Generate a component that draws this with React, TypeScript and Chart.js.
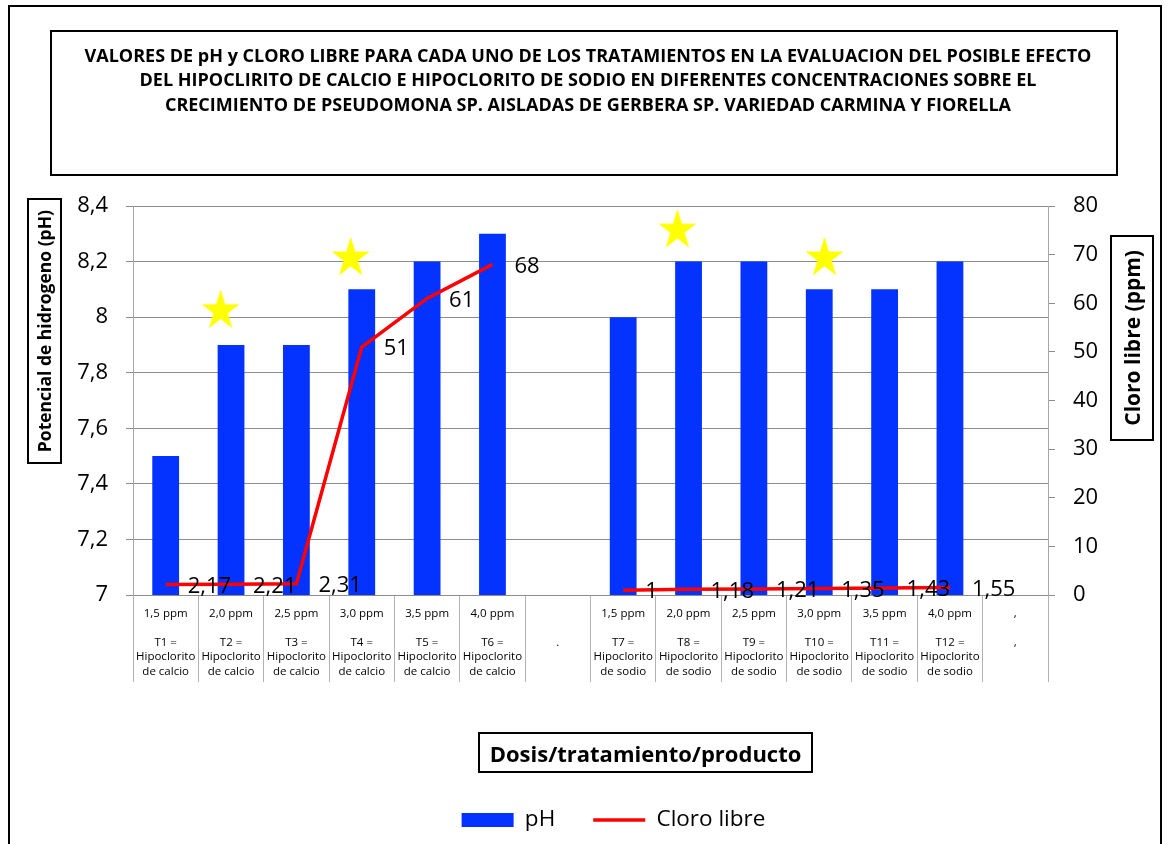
import { useEffect, useRef } from 'react';
import { Chart, registerables } from 'chart.js';

Chart.register(...registerables);

// ---------- data ----------
const categories: string[][] = [
  ['1,5 ppm', '', 'T1 =', 'Hipoclorito', 'de calcio'],
  ['2,0 ppm', '', 'T2 =', 'Hipoclorito', 'de calcio'],
  ['2,5 ppm', '', 'T3 =', 'Hipoclorito', 'de calcio'],
  ['3,0 ppm', '', 'T4 =', 'Hipoclorito', 'de calcio'],
  ['3,5 ppm', '', 'T5 =', 'Hipoclorito', 'de calcio'],
  ['4,0 ppm', '', 'T6 =', 'Hipoclorito', 'de calcio'],
  ['', '', '.', '', ''],
  ['1,5 ppm', '', 'T7 =', 'Hipoclorito', 'de sodio'],
  ['2,0 ppm', '', 'T8 =', 'Hipoclorito', 'de sodio'],
  ['2,5 ppm', '', 'T9 =', 'Hipoclorito', 'de sodio'],
  ['3,0 ppm', '', 'T10 =', 'Hipoclorito', 'de sodio'],
  ['3,5 ppm', '', 'T11 =', 'Hipoclorito', 'de sodio'],
  ['4,0 ppm', '', 'T12 =', 'Hipoclorito', 'de sodio'],
  [',', '', ',', '', ''],
];

const phValues: (number | null)[] = [7.5, 7.9, 7.9, 8.1, 8.2, 8.3, null, 8.0, 8.2, 8.2, 8.1, 8.1, 8.2, null];
const cloroValues: (number | null)[] = [2.17, 2.21, 2.31, 51, 61, 68, null, 1, 1.18, 1.21, 1.35, 1.43, 1.55, null];

// star markers: category index, shift (fraction of a category), pH level
const starCategories: number[] = [1, 3, 8, 10];
const starShifts: number[] = [-0.16, -0.17, -0.17, 0.08];
const starLevels: number[] = [8.03, 8.22, 8.32, 8.22];

const phAxis = { min: 7, max: 8.4, step: 0.2 };
const cloroAxis = { min: 0, max: 80, step: 10 };

const titleLines: string[] = [
  'VALORES DE pH y CLORO LIBRE PARA CADA UNO DE LOS TRATAMIENTOS EN LA EVALUACION DEL POSIBLE EFECTO',
  'DEL HIPOCLIRITO DE CALCIO E HIPOCLORITO DE SODIO EN DIFERENTES CONCENTRACIONES SOBRE EL',
  'CRECIMIENTO DE PSEUDOMONA SP. AISLADAS DE GERBERA SP. VARIEDAD CARMINA Y FIORELLA',
];
const leftTitle = 'Potencial de hidrogeno (pH)';
const rightTitle = 'Cloro libre (ppm)';
const xTitle = 'Dosis/tratamiento/producto';
const seriesNames = ['pH', 'Cloro libre'];

const BLUE = '#0433ff';
const RED = '#ff0000';
const FONT = "'Open Sans', 'Noto Sans', sans-serif";

function fmt(v: number): string {
  return String(v).replace('.', ',');
}

function makeStar(): HTMLCanvasElement {
  const c = document.createElement('canvas');
  c.width = 40;
  c.height = 40;
  const g = c.getContext('2d')!;
  const R = 20;
  const Ry = 21.5;
  const cx = 20;
  const cy = 20 + (Ry - Ry * Math.cos(Math.PI / 5)) / 2;
  g.fillStyle = '#ffff00';
  g.beginPath();
  for (let k = 0; k < 10; k++) {
    const a = -Math.PI / 2 + (k * Math.PI) / 5;
    const f = k % 2 === 0 ? 1 : 0.38;
    g.lineTo(cx + R * f * Math.cos(a), cy + Ry * f * Math.sin(a));
  }
  g.closePath();
  g.fill();
  return c;
}

const starPlugin = {
  id: 'stars',
  afterDatasetsDraw(chart: any) {
    const xs = chart.scales.x;
    const ys = chart.scales.y;
    const star = (chart as any).$star as HTMLCanvasElement;
    if (!star) return;
    const cw = xs.getPixelForValue(1) - xs.getPixelForValue(0);
    const ctx = chart.ctx;
    starCategories.forEach((ci, i) => {
      const px = xs.getPixelForValue(ci) + starShifts[i] * cw;
      const py = ys.getPixelForValue(starLevels[i]);
      ctx.drawImage(star, px - star.width / 2, py - star.height / 2);
    });
  },
};

const dataLabelPlugin = {
  id: 'cloroLabels',
  afterDatasetsDraw(chart: any) {
    const meta = chart.getDatasetMeta(1);
    const ctx = chart.ctx;
    ctx.save();
    ctx.font = `22px ${FONT}`;
    ctx.fillStyle = '#000';
    ctx.textAlign = 'left';
    ctx.textBaseline = 'middle';
    meta.data.forEach((el: any, i: number) => {
      const v = cloroValues[i];
      if (v === null || v === undefined) return;
      ctx.fillText(fmt(v), el.x + 22, el.y + 2);
    });
    ctx.restore();
  },
};

const legendShiftPlugin = {
  id: 'legendShift',
  afterLayout(chart: any) {
    if (chart.legend) {
      chart.legend.left += 30;
      chart.legend.right += 30;
    }
  },
};

export default function App() {
  const ref = useRef<HTMLCanvasElement | null>(null);

  useEffect(() => {
    if (!ref.current) return;
    const chart: any = new Chart(ref.current, {
      type: 'bar',
      data: {
        labels: categories,
        datasets: [
          {
            type: 'bar',
            label: seriesNames[0],
            data: phValues,
            backgroundColor: BLUE,
            borderWidth: 0,
            barPercentage: 0.41,
            categoryPercentage: 1.0,
            grouped: false,
            yAxisID: 'y',
            order: 2,
          } as any,
          {
            type: 'line',
            label: seriesNames[1],
            data: cloroValues,
            borderColor: RED,
            backgroundColor: RED,
            borderWidth: 3.5,
            pointRadius: 0,
            tension: 0,
            spanGaps: false,
            yAxisID: 'y1',
            order: 0,
          },
        ],
      },
      options: {
        responsive: false,
        animation: false,
        devicePixelRatio: 1,
        layout: { padding: { left: 0, right: 0, top: 206, bottom: 2.75 } },
        plugins: {
          tooltip: { enabled: false },
          title: { display: false },
          legend: {
            display: true,
            position: 'bottom',
            labels: {
              usePointStyle: true,
              pointStyleWidth: 52,
              boxHeight: 14,
              padding: 38,
              color: '#000',
              font: { family: FONT, size: 22.5 },
              generateLabels: () => [
                {
                  text: seriesNames[0],
                  fillStyle: BLUE,
                  strokeStyle: BLUE,
                  lineWidth: 0,
                  pointStyle: 'rect',
                  hidden: false,
                  datasetIndex: 0,
                  fontColor: '#000',
                } as any,
                {
                  text: seriesNames[1],
                  fillStyle: RED,
                  strokeStyle: RED,
                  lineWidth: 3.5,
                  pointStyle: 'line',
                  hidden: false,
                  datasetIndex: 1,
                  fontColor: '#000',
                } as any,
              ],
            },
          },
        },
        scales: {
          x: {
            type: 'category',
            offset: true,
            grid: {
              offset: true,
              drawOnChartArea: false,
              drawTicks: true,
              tickLength: 87,
              color: '#b3b3b3',
              lineWidth: 1,
            },
            border: { display: true, color: '#8c8c8c' },
            ticks: {
              autoSkip: false,
              maxRotation: 0,
              minRotation: 0,
              padding: -76,
              color: '#000',
              font: { family: FONT, size: 11.5, lineHeight: 14.5 / 11.5 },
            },
            afterFit: (s: any) => {
              s.height = 175.75;
            },
          },
          y: {
            type: 'linear',
            position: 'left',
            min: phAxis.min,
            max: phAxis.max,
            grid: { color: '#8c8c8c', tickLength: 7, lineWidth: 1 },
            border: { display: true, color: '#a6a6a6' },
            ticks: {
              stepSize: phAxis.step,
              padding: 18,
              color: '#000',
              font: { family: FONT, size: 22 },
              callback: (v: any) => fmt(Number(Number(v).toFixed(1))),
            },
            afterFit: (s: any) => {
              s.width = 133;
            },
          },
          y1: {
            type: 'linear',
            position: 'right',
            min: cloroAxis.min,
            max: cloroAxis.max,
            grid: { drawOnChartArea: false, color: '#8c8c8c', tickLength: 7, lineWidth: 1 },
            border: { display: true, color: '#a6a6a6' },
            ticks: {
              stepSize: cloroAxis.step,
              padding: 18,
              color: '#000',
              font: { family: FONT, size: 22 },
            },
            afterFit: (s: any) => {
              s.width = 119;
            },
          },
        },
      },
      plugins: [starPlugin, dataLabelPlugin, legendShiftPlugin],
    });
    chart.$star = makeStar();
    chart.draw();
    return () => chart.destroy();
  }, []);

  const boxBase: React.CSSProperties = {
    position: 'absolute',
    boxSizing: 'border-box',
    border: '2px solid #000',
    background: 'transparent',
    fontFamily: FONT,
    fontWeight: 700,
    color: '#000',
    display: 'flex',
    alignItems: 'center',
    justifyContent: 'center',
    whiteSpace: 'nowrap',
  };

  return (
    <div
      style={{
        position: 'absolute',
        left: 0,
        top: 0,
        width: 1167,
        height: 844,
        overflow: 'hidden',
        background: '#fff',
      }}
    >
      <canvas
        ref={ref}
        width={1167}
        height={844}
        style={{ position: 'absolute', left: 0, top: 0, width: 1167, height: 844, display: 'block' }}
      />
      {/* outer frame */}
      <div
        style={{
          position: 'absolute',
          left: 8,
          top: 5,
          width: 1154,
          height: 900,
          boxSizing: 'border-box',
          border: '2px solid #000',
          pointerEvents: 'none',
        }}
      />
      {/* title box */}
      <div
        style={{
          position: 'absolute',
          boxSizing: 'border-box',
          border: '2px solid #000',
          left: 50,
          top: 30,
          width: 1068,
          height: 146,
          paddingTop: 10.5,
          fontFamily: FONT,
          fontWeight: 700,
          fontSize: 18,
          lineHeight: '24.5px',
          color: '#000',
          textAlign: 'center',
          whiteSpace: 'nowrap',
        }}
      >
        {titleLines.map((t, i) => (
          <div key={i} style={{ marginLeft: 8 }}>
            {t}
          </div>
        ))}
      </div>
      {/* left axis title */}
      <div style={{ ...boxBase, left: 27, top: 198, width: 35, height: 266, fontSize: 17.5 }}>
        <span style={{ writingMode: 'vertical-rl', transform: 'rotate(180deg)', lineHeight: 1 }}>{leftTitle}</span>
      </div>
      {/* right axis title */}
      <div style={{ ...boxBase, left: 1110, top: 235, width: 44, height: 206, fontSize: 21 }}>
        <span style={{ writingMode: 'vertical-rl', transform: 'rotate(180deg)', lineHeight: 1 }}>{rightTitle}</span>
      </div>
      {/* x axis title */}
      <div style={{ ...boxBase, left: 478, top: 732, width: 335, height: 41, fontSize: 22 }}>
        {xTitle}
      </div>
    </div>
  );
}
